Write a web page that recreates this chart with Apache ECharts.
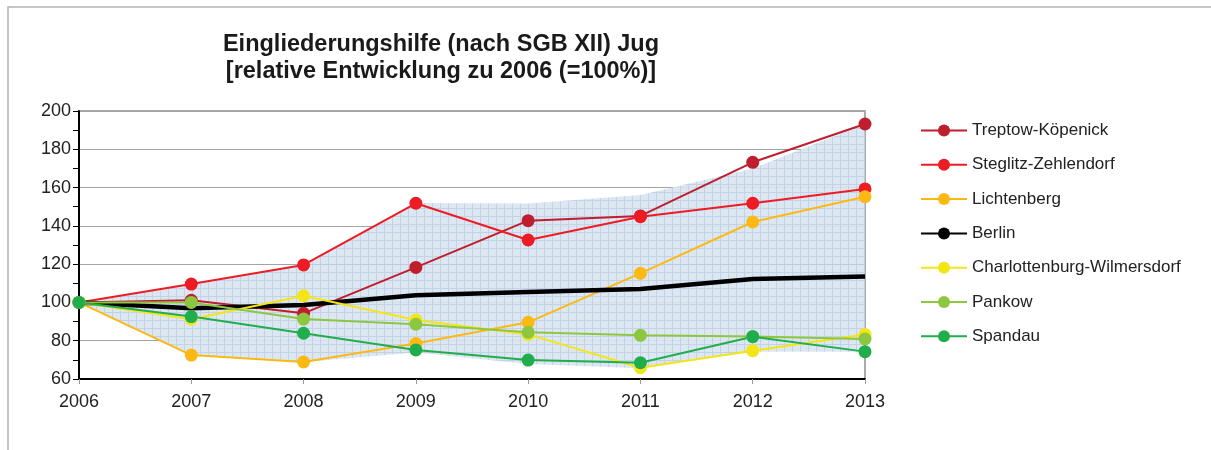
<!DOCTYPE html>
<html>
<head>
<meta charset="utf-8">
<script src="https://cdn.jsdelivr.net/npm/echarts@6/dist/echarts.min.js"></script>
<style>
  html, body { margin: 0; padding: 0; background: #fff; }
  #chart { width: 1211px; height: 450px; }
</style>
</head>
<body>
<div id="chart"></div>
<script>
  const years = ['2006', '2007', '2008', '2009', '2010', '2011', '2012', '2013']

  const treptow = [100, 101.1, 94.3, 118.3, 142.7, 145.2, 173.2, 193.2]
  const steglitz = [100, 109.6, 119.6, 151.8, 132.6, 144.8, 151.8, 159.3]
  const lichtenberg = [100, 72.5, 68.9, 78.6, 89.6, 115.2, 142, 155.2]
  const berlin = [100, 96.9, 98.7, 103.7, 105.5, 107, 112.2, 113.6]
  const charlottenburg = [100, 91.2, 103.5, 90.8, 83.3, 65.9, 74.8, 83.3]
  const pankow = [100, 100, 91.3, 88.6, 84.4, 82.8, 82.2, 80.9]
  const spandau = [100, 92.6, 83.9, 75.2, 69.9, 68.5, 82.1, 74.3]

  // Spannweite aller Bezirke (Band im Hintergrund)
  const bandUpper = [100, 109.6, 120, 152, 151.7, 156.1, 170, 193.2]
  const bandLower = [100, 72.5, 68.9, 73.8, 67.8, 65.6, 74.3, 74.3]

  const yTicks = [60, 80, 100, 120, 140, 160, 180, 200]

  const font = '"Liberation Sans", Arial, sans-serif'

  // Karomuster fuer das Band
  const pattern = document.createElement('canvas')
  pattern.width = 8
  pattern.height = 8
  const pctx = pattern.getContext('2d')
  pctx.fillStyle = '#dbe5f1'
  pctx.fillRect(0, 0, 8, 8)
  pctx.fillStyle = '#bdd0e7'
  pctx.fillRect(0, 0, 8, 1)
  pctx.fillRect(0, 0, 1, 8)

  function district(name, data, color) {
    return {
      name: name,
      type: 'line',
      data: data,
      symbol: 'circle',
      symbolSize: 13,
      itemStyle: { color: color },
      lineStyle: { color: color, width: 2 },
      emphasis: { disabled: true }
    }
  }

  const chart = echarts.init(document.getElementById('chart'))

  chart.setOption({
    animation: false,
    textStyle: { fontFamily: font },
    graphic: [
      {
        type: 'rect',
        shape: { x: 8, y: 7, width: 1300, height: 500 },
        style: { fill: 'none', stroke: '#b3b3b3', lineWidth: 1.5 },
        silent: true
      },
      {
        type: 'text',
        x: 441,
        y: 31,
        style: {
          text: 'Eingliederungshilfe (nach SGB XII) Jug\n[relative Entwicklung zu 2006 (=100%)]',
          font: 'bold 23.5px ' + font,
          fill: '#1a1a1a',
          textAlign: 'center',
          lineHeight: 27
        }
      }
    ],
    legend: {
      orient: 'vertical',
      left: 920,
      top: 122,
      padding: 0,
      itemWidth: 46,
      itemHeight: 15,
      itemGap: 17.3,
      data: ['Treptow-Köpenick', 'Steglitz-Zehlendorf', 'Lichtenberg', 'Berlin',
        'Charlottenburg-Wilmersdorf', 'Pankow', 'Spandau'],
      textStyle: { fontSize: 17, lineHeight: 17, color: '#222', fontFamily: font }
    },
    grid: {
      left: 79,
      right: 346,
      top: 111,
      bottom: 71,
      show: true,
      borderColor: '#8f8f8f',
      borderWidth: 1.5
    },
    xAxis: {
      type: 'category',
      data: years,
      boundaryGap: false,
      axisLine: { lineStyle: { color: '#000', width: 2 } },
      axisTick: { show: true, length: 5, lineStyle: { color: '#999' } },
      axisLabel: { fontSize: 18, color: '#222', margin: 14, fontFamily: font }
    },
    yAxis: {
      type: 'value',
      min: yTicks[0],
      max: yTicks[yTicks.length - 1],
      interval: 20,
      axisLine: { show: true, lineStyle: { color: '#000', width: 2 } },
      axisTick: { show: true, length: 6, lineStyle: { color: '#000' } },
      minorTick: { show: true, splitNumber: 2, length: 6, lineStyle: { color: '#000' } },
      splitLine: { lineStyle: { color: '#a3a3a3', width: 1 } },
      axisLabel: { fontSize: 18, color: '#222', margin: 8, fontFamily: font }
    },
    series: [
      {
        name: 'band-unten',
        type: 'line',
        data: bandLower,
        stack: 'band',
        symbol: 'none',
        lineStyle: { opacity: 0 },
        silent: true,
        z: 1
      },
      {
        name: 'band',
        type: 'line',
        data: bandUpper.map((v, i) => v - bandLower[i]),
        stack: 'band',
        symbol: 'none',
        lineStyle: { opacity: 0 },
        areaStyle: { color: { image: pattern, repeat: 'repeat' }, opacity: 0.92 },
        silent: true,
        z: 1
      },
      district('Treptow-Köpenick', treptow, '#be1e2d'),
      district('Steglitz-Zehlendorf', steglitz, '#ed1c24'),
      district('Lichtenberg', lichtenberg, '#fdb913'),
      {
        name: 'Berlin',
        type: 'line',
        data: berlin,
        symbol: 'none',
        itemStyle: { color: '#000' },
        lineStyle: { color: '#000', width: 4.5 },
        emphasis: { disabled: true }
      },
      district('Charlottenburg-Wilmersdorf', charlottenburg, '#f4e616'),
      district('Pankow', pankow, '#8dc63f'),
      district('Spandau', spandau, '#20ad4b')
    ]
  })
</script>
</body>
</html>
